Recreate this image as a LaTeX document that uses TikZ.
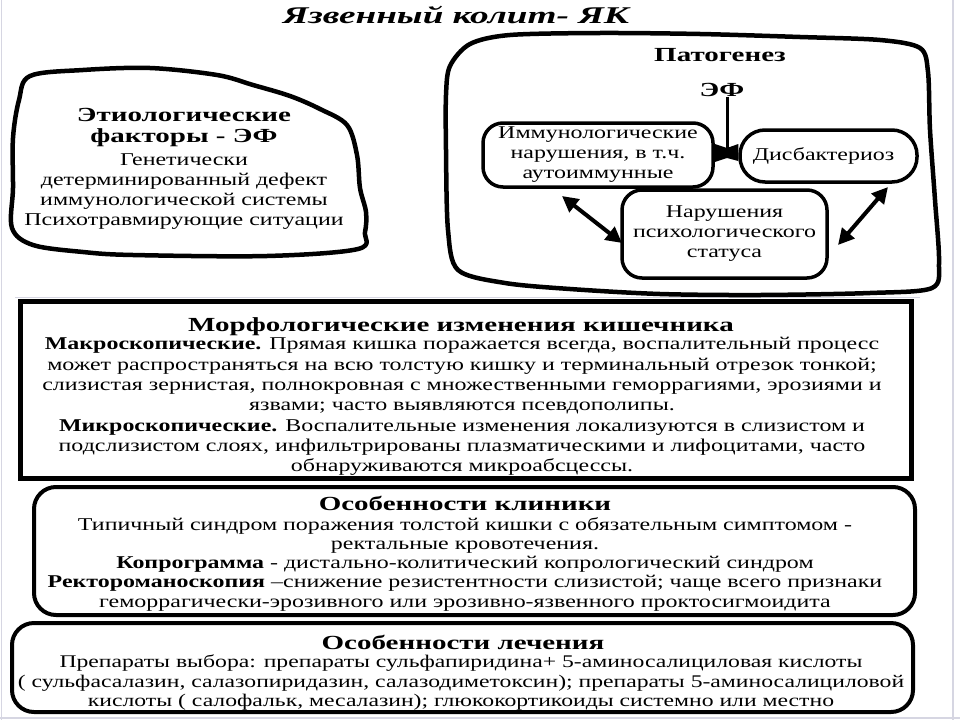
\documentclass[tikz,border=0pt]{standalone}
\usepackage{fontspec}
\setmainfont{Liberation Serif}
\newfontfamily\bodyf[FakeStretch=1.33]{Liberation Serif}
\newfontfamily\headf[FakeStretch=1.45]{Liberation Serif}
\newfontfamily\titlef[FakeStretch=1.55]{Liberation Serif}
\usetikzlibrary{arrows.meta}
\definecolor{framegray}{RGB}{214,214,226}
\begin{document}
\begin{tikzpicture}[x=1pt,y=-1pt,
  blob/.style={draw, line width=4.5pt, line join=round},
  sqbox/.style={draw, line width=5pt, inner sep=0pt},
  rbox/.style={draw, line width=4pt, rounded corners=22pt, inner sep=0pt},
  ibox/.style={draw, line width=3.5pt, rounded corners=20pt, inner sep=0pt, align=center,
    font=\bodyf\fontsize{18}{20}\selectfont},
  bodytxt/.style={inner sep=0pt, align=center},
  headtxt/.style={inner sep=0pt, align=center, font=\headf\bfseries\fontsize{20}{21}\selectfont},
  dbl/.style={line width=4pt, {Triangle[length=16pt,width=16pt]}-{Triangle[length=16pt,width=16pt]}},
  framel/.style={draw=framegray, line width=1.2pt}
]
\useasboundingbox (0,0) rectangle (960,720);
\fill[white] (0,0) rectangle (960,720);
% faint slide frame
\draw[framel] (1.5,0) -- (1.5,720);
\draw[framel] (953,0) -- (953,720);
\draw[framel] (0,718) -- (960,718);
\draw[framel, line width=0.8pt] (15,297.5) -- (920,297.5);

% title
\node[inner sep=0pt, font=\titlef\bfseries\itshape\fontsize{24}{24}\selectfont] (title) at (456,15) {Язвенный колит- ЯК};

% etiology blob
\draw[blob] plot[smooth cycle, tension=0.55] coordinates {
 (30,76) (83,70) (150,68) (217,75) (253,85) (290,96) (320,109) (347,125)
 (357,155) (360,188) (366,212) (365,232) (358,249) (267,256) (133,255)
 (83,252) (33,245) (12,228) (13,188) (13,138) (19,100)};
\node[headtxt] (etiohead) at (184,127.5) {Этиологические\\факторы - ЭФ};
\node[bodytxt, font=\bodyf\fontsize{18}{19.7}\selectfont] (etiobody) at (184,191.5)
 {Генетически\\детерминированный дефект\\иммунологической системы\\Психотравмирующие ситуации};

% pathogenesis blob
\draw[blob] plot[smooth cycle, tension=0.5] coordinates {
 (450,66) (470,44) (510,35) (600,33) (700,34) (800,37) (880,40) (920,48)
 (928,72) (930,130) (935,200) (939,262) (932,288) (870,293) (760,295)
 (660,294) (570,289) (505,283) (458,270) (448,230) (446,150) (446,95)};
\node[headtxt] (pathead) at (720,55) {Патогенез};
\node[headtxt] (ef) at (722,90) {ЭФ};

\node[ibox, minimum width=230pt, minimum height=64pt] (imm) at (598,155)
 {Иммунологические\\нарушения, в т.ч.\\аутоиммунные};
\node[ibox, rounded corners=25pt, minimum width=177pt, minimum height=52pt] (dis) at (828.5,156)
 {Дисбактериоз\hspace*{10pt}};
\node[ibox, minimum width=205pt, minimum height=88pt] (psy) at (724.5,234)
 {Нарушения\\психологического\\статуса};

\coordinate (junc) at (727,153);
\draw[line width=3pt] (ef.south -| junc) -- (junc);
\fill (imm.east |- 0,144) -- (727,148) -- (dis.west |- 0,144) -- (dis.west |- 0,161)
  -- (727,158) -- (imm.east |- 0,162) -- cycle;

\coordinate (la) at (562,196);
\coordinate (lb) at (622,243);
\coordinate (ra) at (888,187);
\coordinate (rb) at (838,245);
\draw[dbl] (la) -- (lb);
\draw[dbl] (ra) -- (rb);

% morphology box
\node[sqbox, minimum width=891pt, minimum height=177pt] (morph) at (465.5,389.5) {};
\node[headtxt] (morphhead) at (461,327) {Морфологические изменения кишечника};
\node[bodytxt, font=\bodyf\fontsize{18}{20.3}\selectfont] (morphbody) at (462,406.5)
 {\textbf{Макроскопические.} Прямая кишка поражается всегда, воспалительный процесс\\
  может распространяться на всю толстую кишку и терминальный отрезок тонкой;\\
  слизистая зернистая, полнокровная с множественными геморрагиями, эрозиями и\\
  язвами; часто выявляются псевдополипы.\\
  \textbf{Микроскопические.} Воспалительные изменения локализуются в слизистом и\\
  подслизистом слоях, инфильтрированы плазматическими и лифоцитами, часто\\
  обнаруживаются микроабсцессы.};

% clinic box
\node[rbox, minimum width=881pt, minimum height=128pt] (clin) at (474.5,551) {};
\node[headtxt] (clinhead) at (465,503) {Особенности клиники};
\node[bodytxt, font=\bodyf\fontsize{18}{19.25}\selectfont] (clinbody) at (465,564)
 {Типичный синдром поражения толстой кишки с обязательным симптомом -\\
  ректальные кровотечения.\\
  \textbf{Копрограмма} - дистально-колитический копрологический синдром\\
  \textbf{Ректороманоскопия} –снижение резистентности слизистой; чаще всего признаки\\
  геморрагически-эрозивного или эрозивно-язвенного проктосигмоидита};

% treatment box
\node[rbox, minimum width=901pt, minimum height=89pt] (treat) at (462.5,667.5) {};
\node[headtxt] (treathead) at (463,642) {Особенности лечения};
\node[bodytxt, font=\bodyf\fontsize{17.8}{19.5}\selectfont] (treatbody) at (461,683)
 {Препараты выбора: препараты сульфапиридина+ 5-аминосалициловая кислоты\\
  ( сульфасалазин, салазопиридазин, салазодиметоксин); препараты 5-аминосалициловой\\
  кислоты ( салофальк, месалазин); глюкокортикоиды системно или местно};
\end{tikzpicture}
\end{document}
